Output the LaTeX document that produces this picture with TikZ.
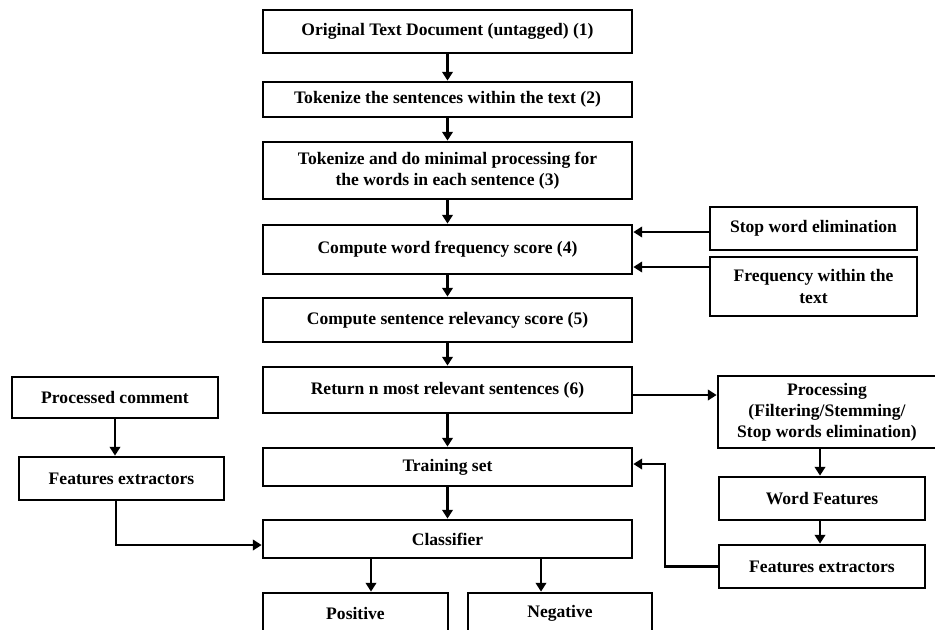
\documentclass[tikz,border=0pt]{standalone}
\usepackage{fontspec}
\setmainfont{Liberation Serif}
\usetikzlibrary{arrows.meta}
\begin{document}
\begin{tikzpicture}[x=0.02cm,y=-0.02cm,
 box/.style={draw, line width=1.6pt, inner sep=0pt, align=center, font=\fontsize{10}{12}\selectfont\bfseries},
 arr/.style={line width=1.2pt, -{Triangle[length=5pt,width=6pt]}},
 ln/.style={line width=1.2pt}]
\useasboundingbox (0,0) rectangle (935,629);
\clip (0,0) rectangle (935,629);
% main column
\node[box, minimum width=7.38cm, minimum height=0.86cm] (b1) at (447.5,31.5) {Original Text Document (untagged) (1)};
\node[box, minimum width=7.38cm, minimum height=0.70cm] (b2) at (447.5,99.5) {Tokenize the sentences within the text (2)};
\node[box, minimum width=7.38cm, minimum height=1.14cm] (b3) at (447.5,170.5) {Tokenize and do minimal processing for\\the words in each sentence (3)};
\node[box, minimum width=7.38cm, minimum height=0.98cm] (b4) at (447.5,249.5) {Compute word frequency score (4)};
\node[box, minimum width=7.38cm, minimum height=0.88cm] (b5) at (447.5,320) {Compute sentence relevancy score (5)};
\node[box, minimum width=7.38cm, minimum height=0.92cm] (b6) at (447.5,390) {Return n most relevant sentences (6)};
\node[box, minimum width=7.38cm, minimum height=0.76cm] (train) at (447.5,467) {Training set};
\node[box, minimum width=7.38cm, minimum height=0.76cm] (clf) at (447.5,539) {Classifier};
\node[box, minimum width=3.70cm, minimum height=0.82cm] (pos) at (355.5,613.5) {Positive};
\node[box, minimum width=3.68cm, minimum height=0.82cm] (neg) at (560,613.5) {Negative};
% right column
\node[box, minimum width=4.14cm, minimum height=0.86cm] (stop) at (813.5,228.5) {Stop word elimination};
\node[box, minimum width=4.14cm, minimum height=1.18cm] (freq) at (813.5,286.5) {Frequency within the\\text};
\node[box, minimum width=4.36cm, minimum height=1.44cm] (proc) at (827,412) {Processing\\(Filtering/Stemming/\\Stop words elimination)};
\node[box, minimum width=4.12cm, minimum height=0.86cm] (wf) at (822,498.5) {Word Features};
\node[box, minimum width=4.12cm, minimum height=0.86cm] (fe2) at (822,566.5) {Features extractors};
% left column
\node[box, minimum width=4.12cm, minimum height=0.82cm] (pc) at (115,397.5) {Processed comment};
\node[box, minimum width=4.10cm, minimum height=0.86cm] (fe1) at (121.5,478.5) {Features extractors};
% connectors main column
\draw[arr] (b1.south) -- (b2.north);
\draw[arr] (b2.south) -- (b3.north);
\draw[arr] (b3.south) -- (b4.north);
\draw[arr] (b4.south) -- (b5.north);
\draw[arr] (b5.south) -- (b6.north);
\draw[arr] (b6.south) -- (train.north);
\draw[arr] (train.south) -- (clf.north);
\draw[arr] (clf.south -| 371,0) -- (pos.north -| 371,0);
\draw[arr] (clf.south -| 541,0) -- (neg.north -| 541,0);
% right side
\draw[arr] (stop.west |- 0,232) -- (b4.east |- 0,232);
\draw[arr] (freq.west |- 0,267) -- (b4.east |- 0,267);
\draw[arr] (b6.east |- 0,395) -- (proc.west |- 0,395);
\draw[arr] (proc.south -| 820,0) -- (wf.north -| 820,0);
\draw[arr] (wf.south -| 820,0) -- (fe2.north -| 820,0);
\draw[arr] (fe2.west) -| (665,464) -- (train.east |- 665,464);
% left side
\draw[arr] (pc.south) -- (fe1.north -| pc.south);
\draw[arr] (fe1.south -| 116,0) |- (clf.west |- 0,545);
\end{tikzpicture}
\end{document}
